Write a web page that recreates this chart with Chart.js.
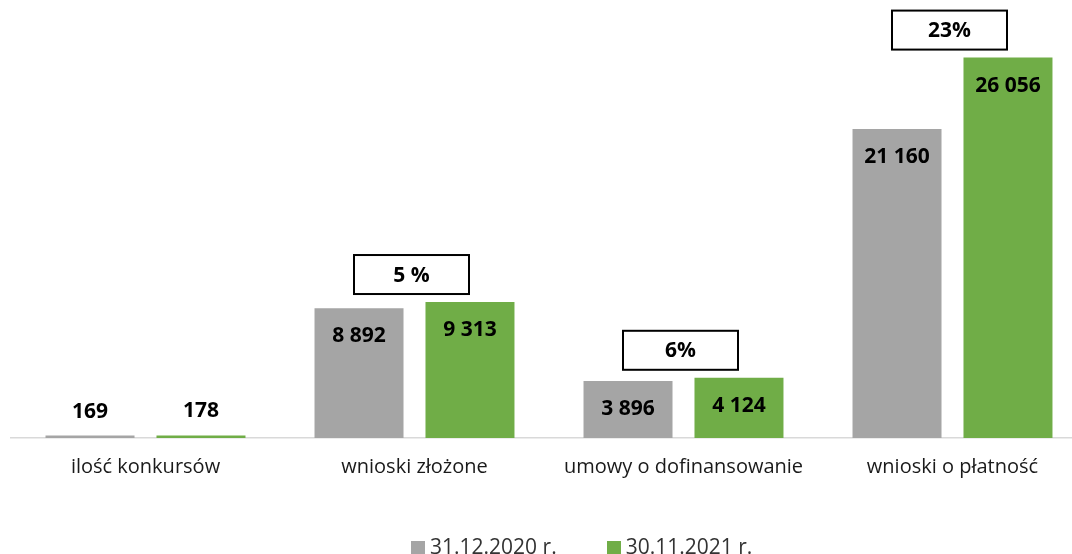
<!DOCTYPE html>
<html>
<head>
<meta charset="utf-8">
<script src="https://cdn.jsdelivr.net/npm/chart.js@4"></script>
<style>
  html, body { margin: 0; padding: 0; background: #fff; overflow: hidden; }
  #wrap { position: absolute; left: 0; top: 0; width: 1088px; height: 554px; }
  #legend { position: absolute; left: 411px; top: 533px; display: flex; font: 21px "Open Sans", sans-serif; color: #333; line-height: 26px; white-space: nowrap; }
  #legend span.box { display: inline-block; width: 14px; height: 14px; margin-right: 5px; vertical-align: -1px; }
  #legend .item { margin-right: 50px; }
</style>
</head>
<body>
<div id="wrap"><canvas id="chart"></canvas></div>
<div id="legend"></div>
<script>
const categories = ['ilość konkursów', 'wnioski złożone', 'umowy o dofinansowanie', 'wnioski o płatność'];
const seriesNames = ['31.12.2020 r.', '30.11.2021 r.'];
const values2020 = [169, 8892, 3896, 21160];
const values2021 = [178, 9313, 4124, 26056];
const changeLabels = ['', '5 %', '6%', '23%'];
const colors = ['#a5a5a5', '#70ad47'];

function fmt(v) {
  return String(v).replace(/\B(?=(\d{3})+(?!\d))/g, ' ');
}

const labelPlugin = {
  id: 'labels',
  afterDatasetsDraw(chart) {
    const ctx = chart.ctx;
    ctx.save();
    ctx.font = 'bold 21px "Open Sans", sans-serif';
    ctx.fillStyle = '#000';
    ctx.textAlign = 'center';
    ctx.textBaseline = 'middle';
    chart.data.datasets.forEach((ds, i) => {
      chart.getDatasetMeta(i).data.forEach((bar, j) => {
        const h = bar.base - bar.y;
        const y = h > 40 ? bar.y + 28 : bar.y - 24;
        ctx.fillText(fmt(ds.data[j]), bar.x, y);
      });
    });
    // change boxes above each group
    const xs = chart.scales.x;
    changeLabels.forEach((t, j) => {
      if (!t) return;
      const top = Math.min(chart.getDatasetMeta(0).data[j].y, chart.getDatasetMeta(1).data[j].y);
      const cx = xs.getPixelForValue(j) - 3;
      const w = 115, hgt = 39;
      const bottom = top - 8;
      ctx.fillStyle = '#fff';
      ctx.fillRect(cx - w / 2, bottom - hgt, w, hgt);
      ctx.lineWidth = 2;
      ctx.strokeStyle = '#000';
      ctx.strokeRect(cx - w / 2, bottom - hgt, w, hgt);
      ctx.fillStyle = '#000';
      ctx.fillText(t, cx, bottom - hgt / 2 + 1);
    });
    ctx.restore();
  }
};

new Chart(document.getElementById('chart'), {
  type: 'bar',
  data: {
    labels: categories,
    datasets: [
      { label: seriesNames[0], data: values2020, backgroundColor: colors[0] },
      { label: seriesNames[1], data: values2021, backgroundColor: colors[1] }
    ]
  },
  options: {
    responsive: true,
    maintainAspectRatio: false,
    animation: false,
    layout: { padding: { left: 11, right: 1, top: 0, bottom: 76 } },
    datasets: { bar: { categoryPercentage: 0.825, barPercentage: 0.802 } },
    plugins: { legend: { display: false }, tooltip: { enabled: false } },
    scales: {
      x: {
        grid: { display: false, drawTicks: false },
        border: { display: true, color: '#d9d9d9', width: 1.5 },
        ticks: { font: { family: 'Open Sans', size: 20 }, color: '#1a1a1a', padding: 17, maxRotation: 0 },
        afterFit: (s) => { s.height = 40; }
      },
      y: { display: false, min: 0, max: 30000 }
    }
  },
  plugins: [labelPlugin]
});

const legend = document.getElementById('legend');
seriesNames.forEach((n, i) => {
  const d = document.createElement('div');
  d.className = 'item';
  d.innerHTML = '<span class="box" style="background:' + colors[i] + '"></span>' + n;
  legend.appendChild(d);
});
</script>
</body>
</html>
